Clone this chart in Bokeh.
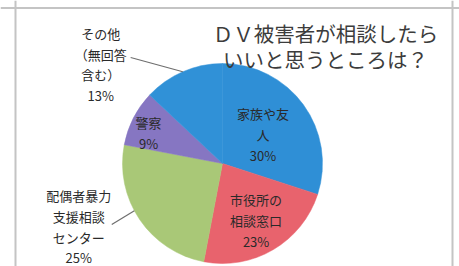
import numpy as np
from bokeh.plotting import figure
from bokeh.models import Range1d, ColumnDataSource, Label, Span
from bokeh.core.properties import value
from bokeh.embed import file_html
from bokeh.resources import INLINE

# ---- data ----
categories = ["家族や友人", "市役所の相談窓口", "配偶者暴力支援相談センター", "警察", "その他（無回答含む）"]
label_texts = ["家族や友\n人", "市役所の\n相談窓口", "配偶者暴力\n支援相談\nセンター", "警察", "その他\n（無回答\n含む）"]
percents = [30, 23, 25, 9, 13]
colors = ["#2f8fd6", "#e8636d", "#a9c877", "#8676c2", "#3091d7"]
title_lines = ["ＤＶ被害者が相談したら", "いいと思うところは？"]

# ---- layout / style ----
FONT_NAME = "Noto Sans CJK JP"
FONT = value(FONT_NAME)
W, H = 459, 266
CX, CY, R = 222, 103, 100
label_r = [0.5, 0.66, 1.57, 0.80, 1.57]           # radial position of labels (x R)
label_dtheta = [0, 0, 10.5, -4.5, -27.5]          # angular tweak of labels (deg)
leader = [None, None, (33, 2, 6), None, (30, 7, 0)]  # (dx, dy from label, angle tweak at pie edge)

vals = np.array(percents, dtype=float)
cum = np.concatenate([[0], np.cumsum(vals)]) / vals.sum() * 360.0
th0, th1 = cum[:-1], cum[1:]
mid = (th0 + th1) / 2

src = ColumnDataSource(dict(
    start=np.radians(90 - th1), end=np.radians(90 - th0), color=colors, cat=categories,
))

p = figure(width=W, height=H, x_range=Range1d(0, W), y_range=Range1d(0, H),
           output_backend="svg", toolbar_location=None, min_border=0,
           x_axis_location=None, y_axis_location=None)
p.grid.visible = False
p.outline_line_color = None
p.background_fill_color = "white"
p.border_fill_color = "white"

p.wedge(x=CX, y=CY, radius=R, start_angle="start", end_angle="end",
        fill_color="color", line_color="color", line_width=0.5, source=src)

lx, ly, txt = [], [], []
for i in range(len(percents)):
    t = np.radians(mid[i] + label_dtheta[i])
    lx.append(CX + label_r[i] * R * np.sin(t))
    ly.append(CY + label_r[i] * R * np.cos(t))
    txt.append(f"{label_texts[i]}\n{percents[i]}%")

p.text(x=lx, y=ly, text=txt, text_align="center", text_baseline="middle",
       text_font=FONT, text_font_size="13px", text_color="#2a2a2a", text_line_height=1.1)

xs, ys = [], []
for i, ld in enumerate(leader):
    if ld is None:
        continue
    dx, dy, dth = ld
    t = np.radians(mid[i] + dth)
    xs.append([lx[i] + dx, CX + R * np.sin(t)])
    ys.append([ly[i] + dy, CY + R * np.cos(t)])
p.multi_line(xs=xs, ys=ys, line_color="#6e6e6e", line_width=1.2)

for k, line in enumerate(title_lines):
    p.add_layout(Label(x=325, y=234 - 26 * k, text=line, text_align="center", text_baseline="middle",
                       text_font=FONT_NAME, text_font_size="20.5px", text_color="#3c3c3c"))

border = dict(line_color="#c4c4c4", line_width=2)
p.add_layout(Span(location=15, dimension="height", **border))
p.add_layout(Span(location=452, dimension="height", **border))
p.add_layout(Span(location=258.5, dimension="width", **border))

open("out.html", "w").write(file_html(p, INLINE))
